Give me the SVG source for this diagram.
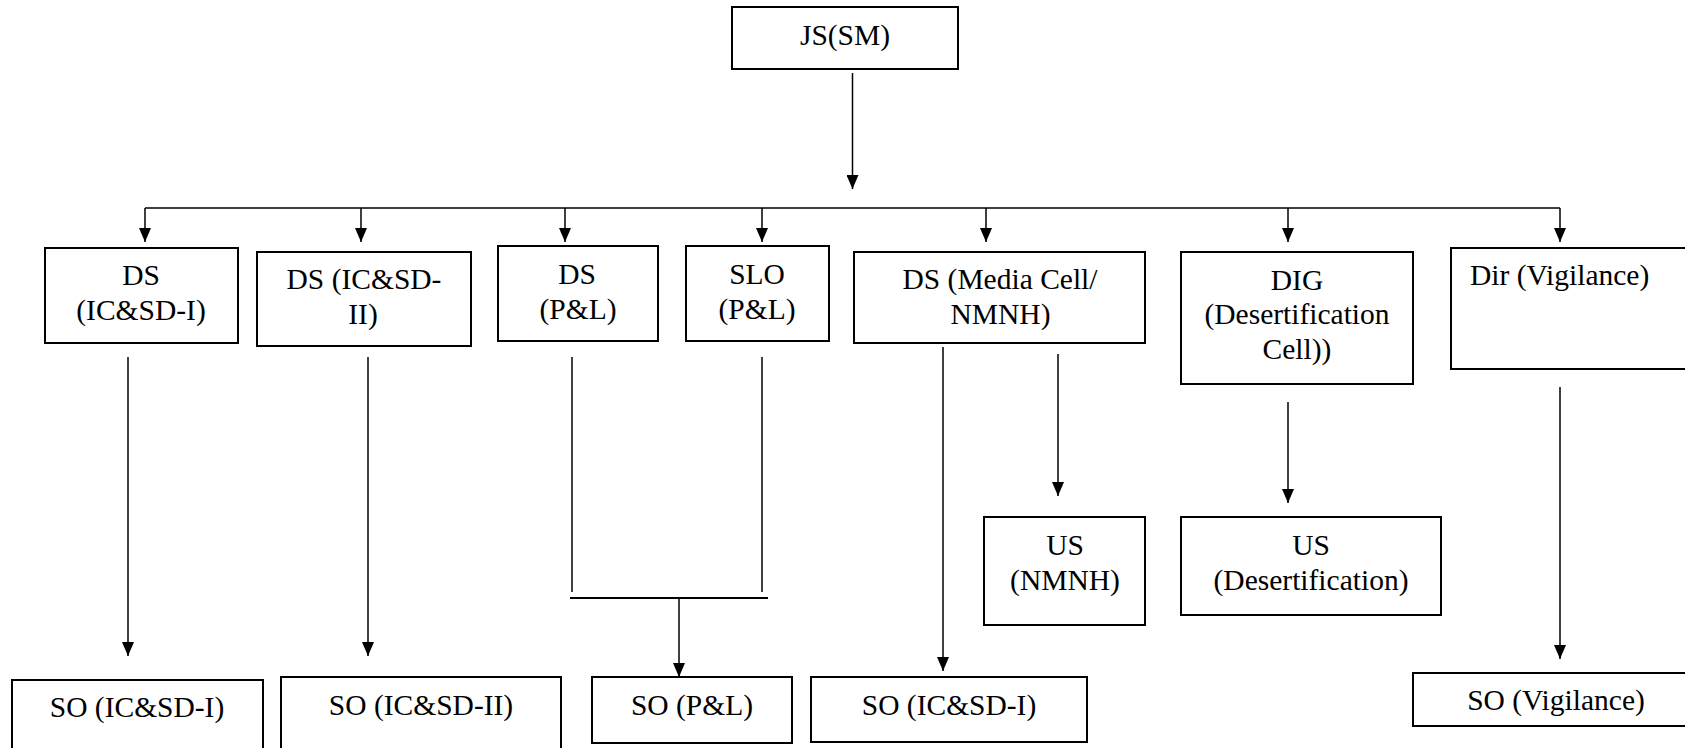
<svg xmlns="http://www.w3.org/2000/svg" width="1685" height="748" viewBox="0 0 1685 748">
<style>
.box{fill:#fff;stroke:#000;stroke-width:2}
.t{font-size:29.5px;fill:#000;text-anchor:middle}
.tl{text-anchor:start}
.c{fill:none;stroke:#000;stroke-width:1.5}
.cb{fill:none;stroke:#000;stroke-width:2.2}
</style>
<defs>
<marker id="ah" viewBox="0 0 14 12" refX="14" refY="6" markerWidth="14" markerHeight="12" markerUnits="userSpaceOnUse" orient="auto">
<path d="M0,0 L14,6 L0,12 z" fill="#000"/>
</marker>
</defs>
<rect width="1685" height="748" fill="#fff"/>
<g id="connectors">
<line class="c" x1="852.5" y1="73" x2="852.5" y2="189" marker-end="url(#ah)"/>
<line class="c" x1="145" y1="208" x2="1560" y2="208"/>
<line class="c" x1="145" y1="208" x2="145" y2="242" marker-end="url(#ah)"/>
<line class="c" x1="361" y1="208" x2="361" y2="242" marker-end="url(#ah)"/>
<line class="c" x1="565" y1="208" x2="565" y2="242" marker-end="url(#ah)"/>
<line class="c" x1="762" y1="208" x2="762" y2="242" marker-end="url(#ah)"/>
<line class="c" x1="986" y1="208" x2="986" y2="242" marker-end="url(#ah)"/>
<line class="c" x1="1288" y1="208" x2="1288" y2="242" marker-end="url(#ah)"/>
<line class="c" x1="1560" y1="208" x2="1560" y2="242" marker-end="url(#ah)"/>
<line class="c" x1="128" y1="357" x2="128" y2="656" marker-end="url(#ah)"/>
<line class="c" x1="368" y1="357" x2="368" y2="656" marker-end="url(#ah)"/>
<line class="c" x1="572" y1="357" x2="572" y2="592"/>
<line class="c" x1="762" y1="357" x2="762" y2="592"/>
<line class="cb" x1="570" y1="598" x2="768" y2="598"/>
<line class="c" x1="679" y1="599" x2="679" y2="677" marker-end="url(#ah)"/>
<line class="c" x1="943" y1="347" x2="943" y2="671" marker-end="url(#ah)"/>
<line class="c" x1="1058" y1="354" x2="1058" y2="496" marker-end="url(#ah)"/>
<line class="c" x1="1288" y1="402" x2="1288" y2="503" marker-end="url(#ah)"/>
<line class="c" x1="1560" y1="387" x2="1560" y2="659" marker-end="url(#ah)"/>
</g>
<g font-family="Liberation Serif, DejaVu Serif, serif">
<g id="js-sm">
<rect class="box" x="732" y="7" width="226" height="62"/>
<text class="t" x="845" y="45">JS(SM)</text>
</g>
<g id="ds-icsd-1">
<rect class="box" x="45" y="248" width="193" height="95"/>
<text class="t" x="141" y="285">DS</text>
<text class="t" x="141" y="320">(IC&amp;SD-I)</text>
</g>
<g id="ds-icsd-2">
<rect class="box" x="257" y="252" width="214" height="94"/>
<text class="t" x="364" y="289">DS (IC&amp;SD-</text>
<text class="t" x="363" y="324">II)</text>
</g>
<g id="ds-pl">
<rect class="box" x="498" y="246" width="160" height="95"/>
<text class="t" x="577" y="283.5">DS</text>
<text class="t" x="578" y="318.5">(P&amp;L)</text>
</g>
<g id="slo-pl">
<rect class="box" x="686" y="246" width="143" height="95"/>
<text class="t" x="757" y="283.5">SLO</text>
<text class="t" x="757" y="318.5">(P&amp;L)</text>
</g>
<g id="ds-media">
<rect class="box" x="854" y="252" width="291" height="91"/>
<text class="t" x="1000" y="289">DS (Media Cell/</text>
<text class="t" x="1000.5" y="324">NMNH)</text>
</g>
<g id="dig">
<rect class="box" x="1181" y="252" width="232" height="132"/>
<text class="t" x="1297" y="289.5">DIG</text>
<text class="t" x="1297" y="324">(Desertification</text>
<text class="t" x="1297" y="358.5">Cell))</text>
</g>
<g id="dir-vig">
<rect class="box" x="1451" y="248" width="250" height="121"/>
<text class="t tl" x="1470" y="285">Dir (Vigilance)</text>
</g>
<g id="us-nmnh">
<rect class="box" x="984" y="517" width="161" height="108"/>
<text class="t" x="1065" y="555">US</text>
<text class="t" x="1065" y="590">(NMNH)</text>
</g>
<g id="us-desert">
<rect class="box" x="1181" y="517" width="260" height="98"/>
<text class="t" x="1311" y="555">US</text>
<text class="t" x="1311" y="590">(Desertification)</text>
</g>
<g id="so-icsd-1">
<rect class="box" x="12" y="680" width="251" height="80"/>
<text class="t" x="137" y="717">SO (IC&amp;SD-I)</text>
</g>
<g id="so-icsd-2">
<rect class="box" x="281" y="677" width="280" height="83"/>
<text class="t" x="421" y="715">SO (IC&amp;SD-II)</text>
</g>
<g id="so-pl">
<rect class="box" x="592" y="677" width="200" height="66"/>
<text class="t" x="692" y="715">SO (P&amp;L)</text>
</g>
<g id="so-icsd-1b">
<rect class="box" x="811" y="677" width="276" height="65"/>
<text class="t" x="949" y="715">SO (IC&amp;SD-I)</text>
</g>
<g id="so-vig">
<rect class="box" x="1413" y="673" width="290" height="53"/>
<text class="t" x="1556" y="710">SO (Vigilance)</text>
</g>
</g>
</svg>
